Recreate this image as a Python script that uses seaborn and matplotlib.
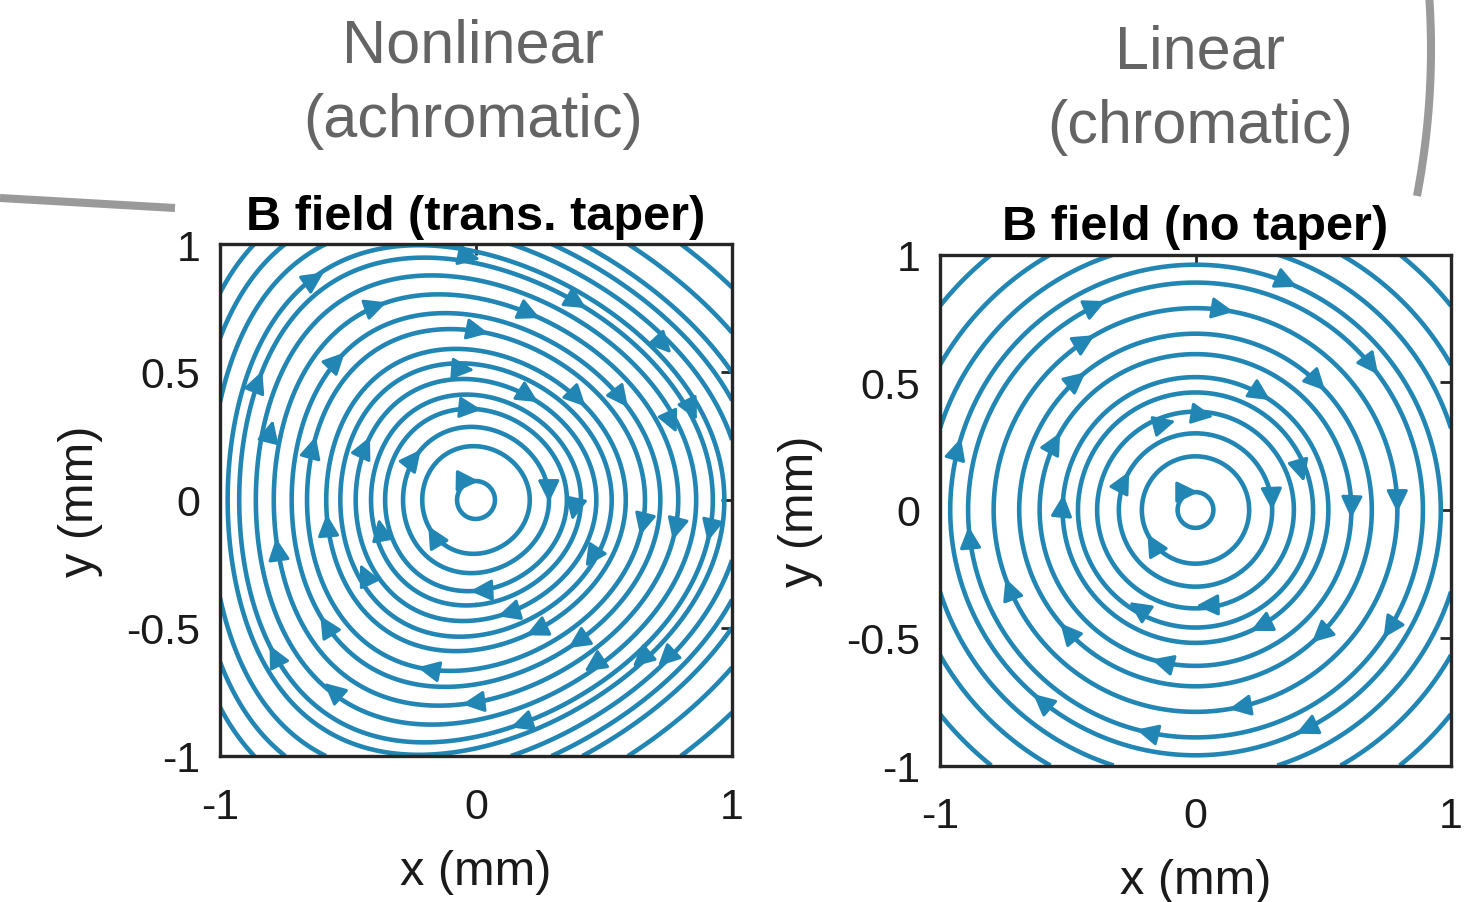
import numpy as np
import matplotlib
matplotlib.use("Agg")
import matplotlib.pyplot as plt
import seaborn as sns
from matplotlib.lines import Line2D

# --- datos -----------------------------------------------------------
# panel izquierdo: corte de cada anillo con el eje x (mm) + niveles de psi exteriores
left_ring_x0 = [0.074, 0.21, 0.285, 0.355, 0.41, 0.47, 0.53, 0.585,
                0.66, 0.72, 0.79, 0.86, 0.925, 0.97]
left_outer_levels = [1.08, 1.22, 1.36, 1.62, 2.0]
taper_coef = 0.45  # deformación transversal del campo

# panel derecho: radios de los anillos (mm)
right_ring_r = [0.07, 0.21, 0.30, 0.385, 0.46, 0.52, 0.61, 0.69,
                0.79, 0.89, 0.96, 1.05, 1.15, 1.28]

x_ticks = [-1, 0, 1]
x_ticklabels = ["-1", "0", "1"]
y_ticks = [-1, -0.5, 0, 0.5, 1]
y_ticklabels = ["-1", "-0.5", "0", "0.5", "1"]
titles = ["B field (trans. taper)", "B field (no taper)"]
headers = ["Nonlinear\n(achromatic)", "Linear\n(chromatic)"]

LINE_COLOR = "#2286b5"
FRAME_COLOR = "#262626"
HEADER_COLOR = "#646464"
DECO_COLOR = "#9a9a9a"

sns.set_theme(style="white")
plt.rcParams["font.family"] = ["Liberation Sans", "DejaVu Sans"]


def psi_taper(X, Y):
    psi = X**2 + Y**2 * (1 + taper_coef * X)
    dx = 2 * X + taper_coef * Y**2
    dy = 2 * Y * (1 + taper_coef * X)
    return psi, dx, dy


def psi_round(X, Y):
    return X**2 + Y**2, 2 * X, 2 * Y


def draw_panel(ax, field, levels, title, spacing=1.1):
    xs = np.linspace(-1, 1, 601)
    X, Y = np.meshgrid(xs, xs)
    psi, _, _ = field(X, Y)
    cs = ax.contour(X, Y, psi, levels=sorted(levels), colors=LINE_COLOR,
                    linewidths=3.3)

    # flechas a lo largo de cada línea de campo (sentido horario)
    k = 0
    for path in cs.get_paths():
        for seg in path.to_polygons(closed_only=False):
            if len(seg) < 3:
                continue
            if np.allclose(seg[0], seg[-1]):
                top = np.argmax(seg[:, 1])
                seg = np.vstack([seg[top:-1], seg[:top + 1]])
            d = np.hypot(*np.diff(seg, axis=0).T)
            s = np.concatenate([[0], np.cumsum(d)])
            total = s[-1]
            if total < spacing:
                marks = [0.0]
            else:
                off = (0.618 * k * spacing + 0.2) % spacing
                marks = np.arange(off, total, spacing)
            k += 1
            for m in marks:
                px = np.interp(m, s, seg[:, 0])
                py = np.interp(m, s, seg[:, 1])
                if abs(px) > 0.95 or abs(py) > 0.95:
                    continue
                _, gx, gy = field(px, py)
                tx, ty = gy, -gx
                n = np.hypot(tx, ty)
                tx, ty = tx / n * 0.012, ty / n * 0.012
                ax.annotate("", xy=(px + tx, py + ty), xytext=(px - tx, py - ty),
                            arrowprops=dict(arrowstyle="-|>,head_length=0.55,head_width=0.27",
                                            color=LINE_COLOR, lw=2.2,
                                            shrinkA=0, shrinkB=0,
                                            mutation_scale=24))

    ax.set_xlim(-1, 1)
    ax.set_ylim(-1, 1)
    ax.set_aspect("equal")
    ax.set_xticks(x_ticks, x_ticklabels)
    ax.set_yticks(y_ticks, y_ticklabels)
    ax.tick_params(direction="in", top=True, right=True, length=8, width=2,
                   color=FRAME_COLOR, labelsize=31, labelcolor="#1a1a1a")
    ax.tick_params(axis="x", pad=22)
    ax.tick_params(axis="y", pad=14)
    for sp in ax.spines.values():
        sp.set_color(FRAME_COLOR)
        sp.set_linewidth(2.4)
        sp.set_zorder(5)
    ax.set_xlabel("x (mm)", fontsize=35, color="#1a1a1a", labelpad=16)
    ax.set_ylabel("y (mm)", fontsize=35, color="#1a1a1a", labelpad=17)
    ax.set_title(title, fontsize=35, fontweight="bold", color="black", pad=11)


fig = plt.figure(figsize=(14.72, 9.03), dpi=100)
ax1 = fig.add_axes([220 / 1472, 1 - 757 / 903, 512 / 1472, 512 / 903])
ax2 = fig.add_axes([940 / 1472, 1 - 767 / 903, 511 / 1472, 512 / 903])

left_levels = [x0**2 for x0 in left_ring_x0] + left_outer_levels
right_levels = [r**2 for r in right_ring_r]
draw_panel(ax1, psi_taper, left_levels, titles[0])
draw_panel(ax2, psi_round, right_levels, titles[1])

# encabezados grises
fig.text(473 / 1472, 1 - 84 / 903, headers[0], ha="center", va="center",
         fontsize=44, color=HEADER_COLOR, linespacing=1.4)
fig.text(1200 / 1472, 1 - 90 / 903, headers[1], ha="center", va="center",
         fontsize=44, color=HEADER_COLOR, linespacing=1.4)

# trazos grises decorativos (restos de la figura original)
fig.add_artist(Line2D([0, 175 / 1472], [1 - 199 / 903, 1 - 209 / 903],
                      transform=fig.transFigure, color=DECO_COLOR, lw=5.8,
                      solid_capstyle="butt"))
yy = np.linspace(0, 197, 40)
xx = 1431 - 0.00065 * (yy - 50) ** 2
fig.add_artist(Line2D(xx / 1472, 1 - yy / 903, transform=fig.transFigure,
                      color=DECO_COLOR, lw=5.8, solid_capstyle="butt"))

fig.savefig("out.png", dpi=100)
